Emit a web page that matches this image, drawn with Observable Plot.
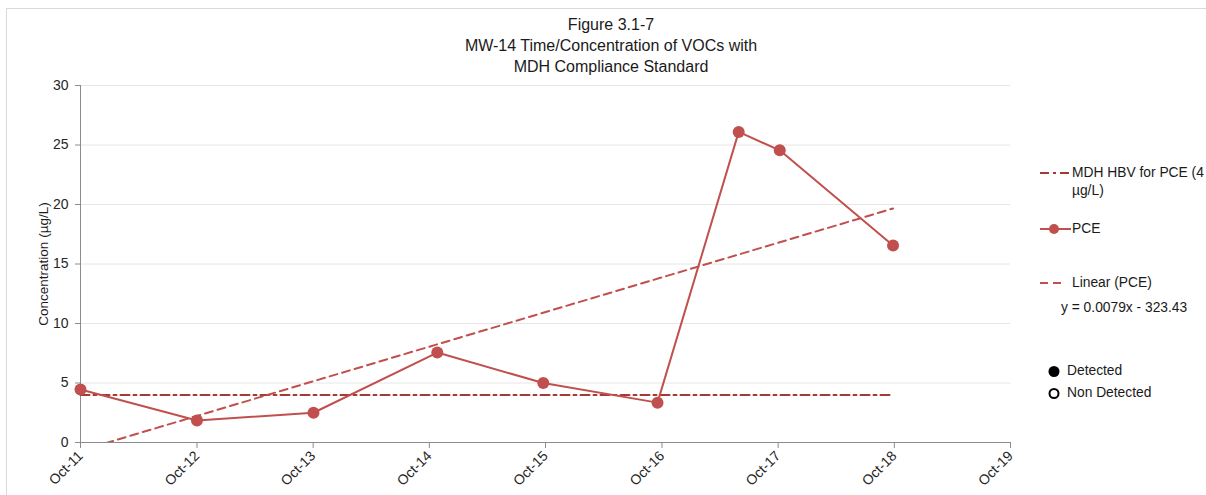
<!DOCTYPE html>
<html>
<head>
<meta charset="utf-8">
<script src="https://cdn.jsdelivr.net/npm/d3@7"></script>
<script src="https://cdn.jsdelivr.net/npm/@observablehq/plot@0.6"></script>
<style>
  html, body { margin: 0; padding: 0; background: #fff; }
  body { font-family: "Liberation Sans", Arial, sans-serif; color: #404040; }
  #wrap { position: relative; width: 1206px; height: 495px; overflow: hidden; }
  #border { position: absolute; left: 6px; top: 8px; width: 1300px; height: 600px;
            border-left: 1.5px solid #d9d9d9; border-top: 1.5px solid #d9d9d9; box-sizing: border-box; }
  #chart { position: absolute; left: 0; top: 0; }
  .title { position: absolute; left: 411px; width: 400px; text-align: center; font-size: 16px;
           color: #1a1a1a; line-height: 21px; top: 14px; }
  .ylabel { position: absolute; font-size: 13.5px; color: #1a1a1a; white-space: nowrap;
            left: 43px; top: 264px; transform: translate(-50%, -50%) rotate(-90deg); }
  .leg { position: absolute; font-size: 13.8px; color: #1a1a1a; white-space: nowrap; line-height: 18px; }
  .leg svg { position: absolute; overflow: visible; }
</style>
</head>
<body>
<div id="wrap">
  <div id="border"></div>
  <div id="chart"></div>
  <div class="title">Figure 3.1-7<br>MW-14 Time/Concentration of VOCs with<br>MDH Compliance Standard</div>
  <div class="ylabel">Concentration (µg/L)</div>
  <div id="legend"></div>
</div>
<script>
// Sampling dates and measured PCE concentrations (µg/L) at MW-14
const sampleDates = ["2011-10-01", "2012-10-01", "2013-10-02", "2014-10-26", "2015-09-24",
                     "2016-09-17", "2017-05-30", "2017-10-06", "2018-09-27"];
const pceValues = [4.45, 1.85, 2.5, 7.56, 5.0, 3.35, 26.1, 24.55, 16.55];

// MDH health-based value for PCE (µg/L)
const hbvStandard = 4;

// Axis ticks
const xTickDates = ["2011-10-01", "2012-10-01", "2013-10-01", "2014-10-01", "2015-10-01",
                    "2016-10-01", "2017-10-01", "2018-10-01", "2019-10-01"];
const xTickLabels = ["Oct-11", "Oct-12", "Oct-13", "Oct-14", "Oct-15", "Oct-16", "Oct-17", "Oct-18", "Oct-19"];
const yTicks = [0, 5, 10, 15, 20, 25, 30];

const trendEquation = "y = 0.0079x - 323.43";

const RED = "#c0504d";
const DARK_RED = "#a33a36";
const AXIS = "#8c8c8c";

const parse = d3.utcParse("%Y-%m-%d");
const pce = sampleDates.map((d, i) => ({date: parse(d), value: pceValues[i]}));
const xTicks = xTickDates.map(parse);
const labelOf = new Map(xTicks.map((d, i) => [+d, xTickLabels[i]]));

// Least-squares linear trend of PCE over time
const xs = pce.map(d => +d.date), ys = pce.map(d => d.value);
const mx = d3.mean(xs), my = d3.mean(ys);
const slope = d3.sum(xs, (x, i) => (x - mx) * (ys[i] - my)) / d3.sum(xs, x => (x - mx) ** 2);
const intercept = my - slope * mx;
const [firstDate, lastDate] = d3.extent(pce, d => d.date);
const trend = [firstDate, lastDate].map(d => ({date: d, value: intercept + slope * +d}));
const hbvLine = [firstDate, lastDate].map(d => ({date: d, value: hbvStandard}));

const chart = Plot.plot({
  width: 1206,
  height: 495,
  marginLeft: 80,
  marginRight: 196,
  marginTop: 85,
  marginBottom: 53,
  style: {fontFamily: "Liberation Sans, Arial, sans-serif", fontSize: "14px", color: "#262626", background: "transparent"},
  x: {type: "utc", domain: [xTicks[0], xTicks[xTicks.length - 1]]},
  y: {domain: [0, 30]},
  marks: [
    Plot.ruleY(yTicks.filter(d => d > 0), {stroke: "#e6e6e6", strokeWidth: 1}),
    Plot.axisY({ticks: yTicks, tickSize: 5, tickPadding: 7, stroke: AXIS, label: null}),
    Plot.axisX({ticks: xTicks, tickFormat: d => labelOf.get(+d), tickRotate: -45, tickSize: 6,
                tickPadding: 5, stroke: AXIS, label: null}),
    Plot.ruleX([xTicks[0]], {stroke: AXIS, strokeWidth: 1}),
    Plot.ruleY([0], {stroke: AXIS, strokeWidth: 1}),
    Plot.line(hbvLine, {x: "date", y: "value", stroke: DARK_RED, strokeWidth: 2, strokeDasharray: "9,4,3,4"}),
    Plot.line(trend, {x: "date", y: "value", stroke: RED, strokeWidth: 2, strokeDasharray: "8,5", clip: true}),
    Plot.line(pce, {x: "date", y: "value", stroke: RED, strokeWidth: 2}),
    Plot.dot(pce, {x: "date", y: "value", r: 6, fill: RED, stroke: "none"})
  ]
});
document.getElementById("chart").appendChild(chart);

// Legend on the right
const legend = document.getElementById("legend");
const items = [
  {top: 164, left: 1072, html: "MDH HBV for PCE (4<br>µg/L)",
   sym: `<line x1="0" y1="9" x2="31" y2="9" stroke="${DARK_RED}" stroke-width="2" stroke-dasharray="9,4,3,4"/>`},
  {top: 220, left: 1072, html: "PCE",
   sym: `<line x1="0" y1="9" x2="31" y2="9" stroke="${RED}" stroke-width="2"/><circle cx="14" cy="9" r="5" fill="${RED}"/>`},
  {top: 274, left: 1072, html: "Linear (PCE)",
   sym: `<line x1="0" y1="9" x2="26" y2="9" stroke="${RED}" stroke-width="2" stroke-dasharray="8,5"/>`},
  {top: 299, left: 1061, html: trendEquation, sym: null},
  {top: 362, left: 1067, html: "Detected",
   sym: `<circle cx="-13" cy="9.5" r="5.5" fill="#000"/>`},
  {top: 384, left: 1067, html: "Non Detected",
   sym: `<circle cx="-13" cy="9.5" r="4.5" fill="none" stroke="#000" stroke-width="2"/>`}
];
for (const it of items) {
  const div = document.createElement("div");
  div.className = "leg";
  div.style.top = it.top + "px";
  div.style.left = it.left + "px";
  div.innerHTML = it.html;
  if (it.sym) {
    const svgLeft = it.sym.includes('cx="-13"') ? 0 : -32;
    div.insertAdjacentHTML("afterbegin",
      `<svg width="1" height="1" style="left:${svgLeft}px;top:0">${it.sym}</svg>`);
  }
  legend.appendChild(div);
}
</script>
</body>
</html>
